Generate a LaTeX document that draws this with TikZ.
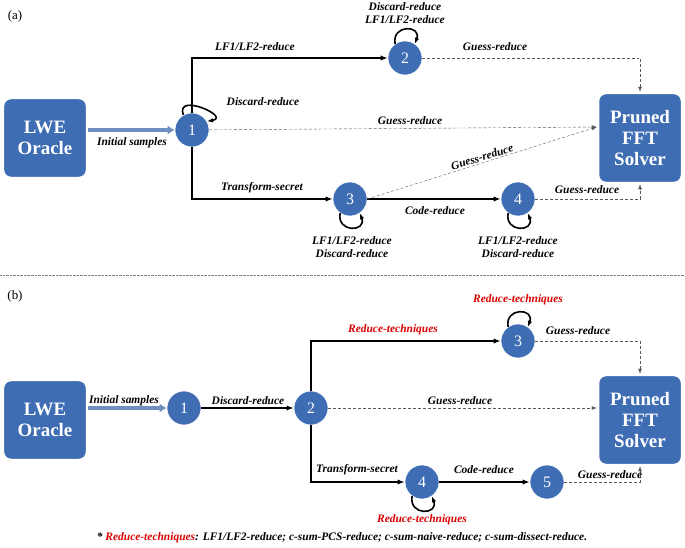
\documentclass[tikz,border=0pt]{standalone}
\usepackage{fontspec}
\setmainfont{Liberation Serif}
\usetikzlibrary{arrows.meta}
\definecolor{nodeblue}{HTML}{3F6DB3}
\definecolor{feedblue}{HTML}{6F8FC0}
\tikzset{
  state/.style={circle,fill=nodeblue,draw=white,line width=0.6pt,minimum size=34bp,inner sep=0pt,text=white,font=\fontsize{16}{16}\selectfont},
  bigbox/.style={rounded corners=8bp,fill=nodeblue,draw=white,line width=2.5pt,text=white,align=center,font=\bfseries\fontsize{19}{21}\selectfont,minimum width=84bp,minimum height=80bp},
  lab/.style={font=\bfseries\itshape\fontsize{11.5}{13}\selectfont,align=center},
  flow/.style={line width=1.6pt,-{Latex[length=7bp]}},
  loopy/.style={line width=1.6pt,-{Latex[length=6bp]},looseness=2.6},
  guess/.style={densely dashed,gray!70!black,-{Latex[length=5bp]}},
  feed/.style={line width=3.5pt,feedblue,-{Latex[length=7bp,width=9bp]}},
  red lab/.style={lab,text=red!85!black}
}
\begin{document}
\begin{tikzpicture}[x=1bp,y=-1bp]
\useasboundingbox (0,0) rectangle (685,548);

% ---------- (a) ----------
\node[font=\fontsize{13}{13}\selectfont] (tagA) at (15,16) {(a)};
\node[bigbox] (oracleA) at (45,138) {LWE\\Oracle};
\node[bigbox,minimum height=90bp] (solverA) at (640,138) {Pruned\\FFT\\Solver};
\node[state] (a1) at (192,130) {1};
\node[state] (a2) at (405,58) {2};
\node[state] (a3) at (350,199) {3};
\node[state] (a4) at (518,199) {4};

\draw[feed] (oracleA.east |- a1) -- (a1);
\node[lab] (lInitA) at (132,143) {Initial samples};

\draw[flow] (a1) |- (a2);
\node[lab] (lLFa) at (255,47) {LF1/LF2-reduce};
\draw[flow] (a1) |- (a3);
\node[lab] (lTSa) at (262,188) {Transform-secret};
\draw[flow] (a3) -- (a4);
\node[lab] (lCRa) at (435,211) {Code-reduce};

% self loops
\draw[loopy] (a1.120) to[out=110,in=10] (a1.30);
\node[lab] (lDRa) at (263,102) {Discard-reduce};
\draw[loopy] (a2.125) to[out=100,in=70] (a2.55);
\node[lab] (lTop2) at (405,13) {Discard-reduce\\LF1/LF2-reduce};
\draw[loopy] (a3.235) to[out=260,in=290] (a3.305);
\node[lab] (lBot3) at (352,247) {LF1/LF2-reduce\\Discard-reduce};
\draw[loopy] (a4.235) to[out=260,in=290] (a4.305);
\node[lab] (lBot4) at (518,247) {LF1/LF2-reduce\\Discard-reduce};

% guesses
\draw[guess] (a1) -- (solverA.west |- 0,127);
\node[lab] (lG1) at (410,121) {Guess-reduce};
\draw[guess] (a2) -| (solverA.north);
\node[lab] (lG2) at (495,47) {Guess-reduce};
\draw[guess] (a3.east) -- (solverA.west |- 0,127);
\node[lab,rotate=17] (lG3) at (482,157) {Guess-reduce};
\draw[guess] (a4) -| (solverA.south);
\node[lab] (lG4) at (587,190) {Guess-reduce};

% separator
\draw[densely dotted,gray] (0,275) -- (685,275);

% ---------- (b) ----------
\node[font=\fontsize{13}{13}\selectfont] (tagB) at (15,296) {(b)};
\node[bigbox] (oracleB) at (45,420) {LWE\\Oracle};
\node[bigbox,minimum height=90bp] (solverB) at (640,420) {Pruned\\FFT\\Solver};
\node[state] (b1) at (184,408) {1};
\node[state] (b2) at (311,408) {2};
\node[state] (b3) at (518,341) {3};
\node[state] (b4) at (422,482) {4};
\node[state] (b5) at (547,482) {5};

\draw[feed] (oracleB.east |- b1) -- (b1);
\node[lab] (lInitB) at (124,401) {Initial samples};
\draw[flow] (b1) -- (b2);
\node[lab] (lDRb) at (248,401) {Discard-reduce};
\draw[flow] (b2) |- (b3);
\node[red lab] (lRT1) at (393,330) {Reduce-techniques};
\draw[flow] (b2) |- (b4);
\node[lab] (lTSb) at (357,470) {Transform-secret};
\draw[flow] (b4) -- (b5);
\node[lab] (lCRb) at (484,470) {Code-reduce};

\draw[loopy] (b3.125) to[out=100,in=70] (b3.55);
\node[red lab] (lRT3) at (518,300) {Reduce-techniques};
\draw[loopy] (b4.235) to[out=260,in=290] (b4.305);
\node[red lab] (lRT4) at (422,520) {Reduce-techniques};

\draw[guess] (b2) -- (solverB.west |- b2);
\node[lab] (lGb2) at (460,401) {Guess-reduce};
\draw[guess] (b3) -| (solverB.north);
\node[lab] (lGb3) at (578,331) {Guess-reduce};
\draw[guess] (b5) -| (solverB.south);
\node[lab] (lGb5) at (610,475) {Guess-reduce};

\node[lab,font=\bfseries\itshape\fontsize{11.5}{13}\selectfont] (note) at (342,538) {* \textcolor{red!85!black}{Reduce-techniques}: LF1/LF2-reduce; c-sum-PCS-reduce; c-sum-naive-reduce; c-sum-dissect-reduce.};
\end{tikzpicture}
\end{document}
